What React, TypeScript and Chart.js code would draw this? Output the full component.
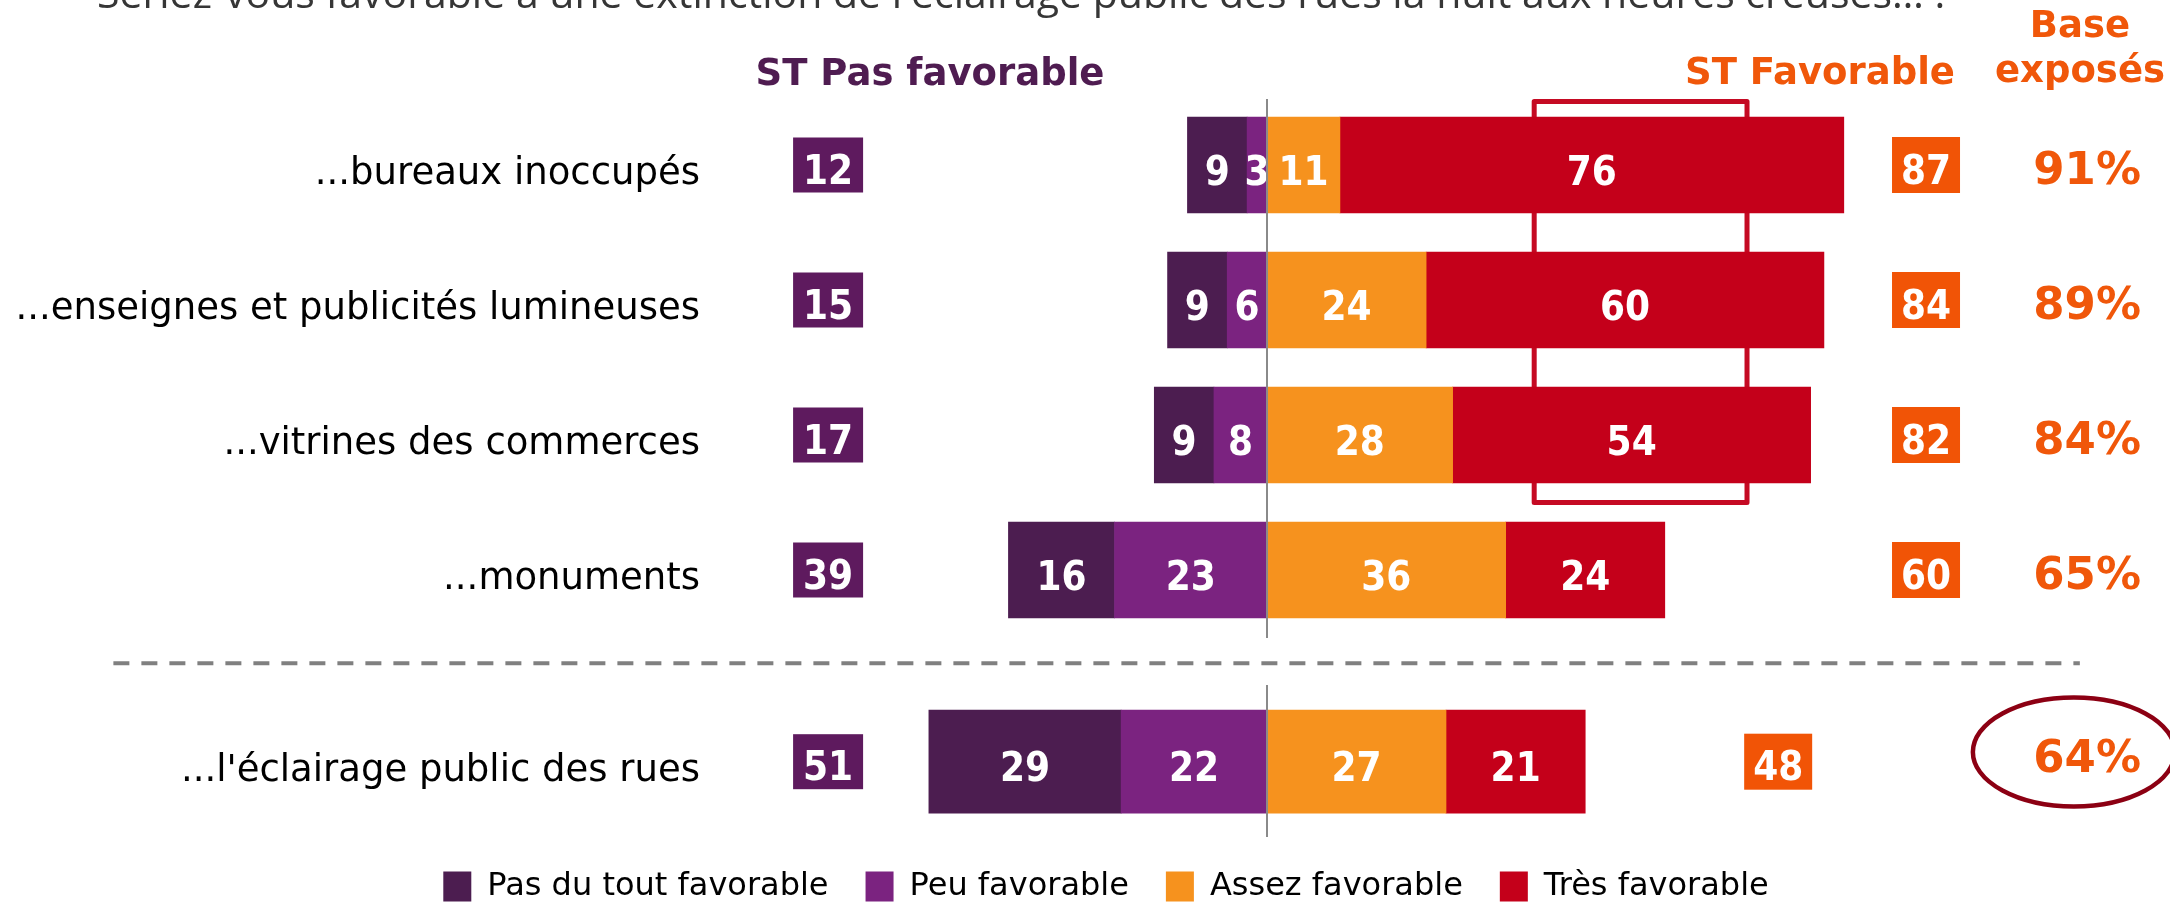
import React, { useEffect, useRef } from 'react';
import { Chart, registerables } from 'chart.js';

Chart.register(...registerables);

// ---------- DATA ----------
const title = "Seriez-vous favorable à une extinction de l'éclairage public des rues la nuit aux heures creuses… :";
const categories = [
  '...bureaux inoccupés',
  '...enseignes et publicités lumineuses',
  '...vitrines des commerces',
  '...monuments',
  "...l'éclairage public des rues",
];
const seriesNames = ['Pas du tout favorable', 'Peu favorable', 'Assez favorable', 'Très favorable'];
const pasDuTout = [9, 9, 9, 16, 29];
const peu = [3, 6, 8, 23, 22];
const assez = [11, 24, 28, 36, 27];
const tres = [76, 60, 54, 24, 21];
const stPasFavorable = [12, 15, 17, 39, 51];
const stFavorable = [87, 84, 82, 60, 48];
const baseExposes = [91, 89, 84, 65, 64];
const headerPas = 'ST Pas favorable';
const headerFav = 'ST Favorable';
const headerBase = ['Base', 'exposés'];

// ---------- LAYOUT / STYLE ----------
const ROW_POS = [0, 1, 2, 3, 4.42];
const MAIN_ROWS = [0, 1, 2, 3];
const LAST_ROW = 4;
// calibration of the scales in pixels
const ZERO_PX = 1267;
const X_UNIT_PX = 6.63;
const FIRST_ROW_PX = 165;
const ROW_UNIT_PX = 135;

const C_PAS = '#4c1d50';
const C_PEU = '#7b2380';
const C_ASSEZ = '#f6921e';
const C_TRES = '#c4001a';
const C_BOX_PAS = '#5e1a5e';
const C_BOX_FAV = '#f15406';
const C_HEAD_PAS = '#4f1c51';
const C_ORANGE = '#f0570a';

// dataset order: negative side stacks from centre outwards
const SERIES = [
  { name: seriesNames[1], values: peu, sign: -1, color: C_PEU, rank: 1 },
  { name: seriesNames[0], values: pasDuTout, sign: -1, color: C_PAS, rank: 0 },
  { name: seriesNames[2], values: assez, sign: 1, color: C_ASSEZ, rank: 2 },
  { name: seriesNames[3], values: tres, sign: 1, color: C_TRES, rank: 3 },
];

let condensedChecked = false;
let hasCondensed = false;
function checkCondensed() {
  if (condensedChecked) return hasCondensed;
  condensedChecked = true;
  const c = document.createElement('canvas').getContext('2d');
  if (!c) return false;
  c.font = 'bold 40px monospace';
  const w0 = c.measureText('0123456789').width;
  c.font = "bold 40px 'DejaVu Sans Condensed', monospace";
  const w1 = c.measureText('0123456789').width;
  hasCondensed = Math.abs(w0 - w1) > 0.5;
  return hasCondensed;
}

function drawNum(ctx: CanvasRenderingContext2D, text: string, cx: number, baseY: number, color: string) {
  ctx.save();
  ctx.fillStyle = color;
  ctx.textAlign = 'center';
  ctx.textBaseline = 'alphabetic';
  if (checkCondensed()) {
    ctx.font = "bold 40px 'DejaVu Sans Condensed'";
    ctx.fillText(text, cx, baseY);
  } else {
    ctx.translate(cx, baseY);
    ctx.scale(0.9, 1);
    ctx.font = "bold 40px 'DejaVu Sans'";
    ctx.fillText(text, 0, 0);
  }
  ctx.restore();
}

const overlayPlugin = {
  id: 'overlay',
  beforeDatasetsDraw(chart: any) {
    const { ctx, scales } = chart;
    const x = scales.x;
    const y = scales.y;
    ctx.save();
    ctx.strokeStyle = '#c50a23';
    ctx.lineWidth = 5;
    ctx.lineJoin = 'round';
    const x0 = x.getPixelForValue(40.3);
    const x1 = x.getPixelForValue(72.4);
    const y0 = y.getPixelForValue(-0.47);
    const y1 = y.getPixelForValue(2.5);
    ctx.strokeRect(x0, y0, x1 - x0, y1 - y0);
    ctx.restore();
  },
  afterDatasetsDraw(chart: any) {
    const { ctx, scales } = chart;
    const x = scales.x;
    const y = scales.y;

    // values inside bars
    chart.data.datasets.forEach((ds: any, di: number) => {
      const meta = chart.getDatasetMeta(di);
      meta.data.forEach((el: any, j: number) => {
        const p = el.getProps(['x', 'y', 'base'], true);
        const v = Math.abs(ds.data[j].x);
        drawNum(ctx, String(v), (p.x + p.base) / 2, p.y + 19.5, '#ffffff');
      });
    });

    ctx.save();
    // centre axis line
    const zx = x.getPixelForValue(0);
    ctx.strokeStyle = '#8a8a8a';
    ctx.lineWidth = 2;
    ctx.beginPath();
    ctx.moveTo(zx, y.getPixelForValue(-0.489));
    ctx.lineTo(zx, y.getPixelForValue(3.504));
    ctx.moveTo(zx, y.getPixelForValue(3.852));
    ctx.lineTo(zx, y.getPixelForValue(4.978));
    ctx.stroke();

    // dashed separator
    ctx.strokeStyle = '#808080';
    ctx.lineWidth = 4;
    ctx.setLineDash([16, 12]);
    const sy = y.getPixelForValue(3.69);
    ctx.beginPath();
    ctx.moveTo(x.getPixelForValue(-174), sy);
    ctx.lineTo(x.getPixelForValue(122.6), sy);
    ctx.stroke();
    ctx.setLineDash([]);

    // row labels
    ctx.fillStyle = '#000000';
    ctx.font = "37px 'DejaVu Sans'";
    ctx.textAlign = 'right';
    ctx.textBaseline = 'alphabetic';
    categories.forEach((c, i) => {
      ctx.fillText(c, 700, y.getPixelForValue(ROW_POS[i]) + 19);
    });

    // ST Pas favorable boxes
    const pasX = x.getPixelForValue(-66.2);
    stPasFavorable.forEach((v, i) => {
      const cy = y.getPixelForValue(ROW_POS[i]);
      ctx.fillStyle = C_BOX_PAS;
      ctx.fillRect(pasX - 35, cy - 27.5, 70, 55);
      drawNum(ctx, String(v), pasX, cy + 18.5, '#ffffff');
    });

    // ST Favorable boxes
    stFavorable.forEach((v, i) => {
      const bx = x.getPixelForValue(i === LAST_ROW ? 77.1 : 99.4);
      const cy = y.getPixelForValue(ROW_POS[i]);
      ctx.fillStyle = C_BOX_FAV;
      ctx.fillRect(bx - 34, cy - 28, 68, 56);
      drawNum(ctx, String(v), bx, cy + 18.5, '#ffffff');
    });

    // Base exposés percentages
    ctx.fillStyle = C_ORANGE;
    ctx.font = "bold 45px 'DejaVu Sans'";
    ctx.textAlign = 'center';
    const px = x.getPixelForValue(123.7);
    baseExposes.forEach((v, i) => {
      const cy = y.getPixelForValue(ROW_POS[i]);
      ctx.fillText(v + '%', px, cy + (i === LAST_ROW ? 10 : 19));
    });

    // ellipse highlight
    ctx.strokeStyle = '#8c0013';
    ctx.lineWidth = 4.5;
    ctx.beginPath();
    ctx.ellipse(x.getPixelForValue(121.7), y.getPixelForValue(4.348), 101, 54.5, 0, 0, Math.PI * 2);
    ctx.stroke();

    // headers
    ctx.font = "bold 37px 'DejaVu Sans'";
    ctx.fillStyle = C_HEAD_PAS;
    ctx.fillText(headerPas, 930, 85);
    ctx.fillStyle = C_ORANGE;
    ctx.fillText(headerFav, 1820, 84);
    ctx.fillText(headerBase[0], 2080, 37);
    ctx.fillText(headerBase[1], 2080, 82);

    // title (cut at top)
    ctx.fillStyle = '#363636';
    ctx.font = "41px 'Open Sans'";
    ctx.textAlign = 'left';
    ctx.fillText(title, 97, 8);
    ctx.restore();
  },
};

function buildDatasets() {
  const main = SERIES.map((s) => ({
    label: s.name,
    data: MAIN_ROWS.map((i) => ({ x: s.sign * s.values[i], y: ROW_POS[i] })),
    backgroundColor: s.color,
    borderWidth: 0,
    barThickness: 96,
    stack: 'all',
  }));
  const last = SERIES.map((s) => ({
    label: s.name,
    data: [{ x: s.sign * s.values[LAST_ROW], y: ROW_POS[LAST_ROW] }],
    backgroundColor: s.color,
    borderWidth: 0,
    barThickness: 103,
    stack: 'all',
  }));
  return [...main, ...last];
}

export default function App() {
  const ref = useRef<HTMLCanvasElement>(null);
  useEffect(() => {
    document.body.style.margin = '0';
    const canvas = ref.current;
    if (!canvas) return;
    const chart = new Chart(canvas, {
      type: 'bar',
      data: { datasets: buildDatasets() as any },
      options: {
        indexAxis: 'y',
        responsive: false,
        animation: false,
        events: [],
        layout: { padding: { left: 42, right: 0, top: 0, bottom: -10.5 } },
        scales: {
          x: { type: 'linear', min: -184.77, max: 136.2, stacked: true, display: false, offset: false },
          y: { type: 'linear', min: -1.2, max: 5, reverse: true, stacked: true, display: false, offset: false },
        },
        plugins: {
          tooltip: { enabled: false },
          title: { display: false },
          legend: {
            display: true,
            position: 'bottom',
            labels: {
              boxWidth: 28,
              boxHeight: 30,
              padding: 37,
              color: '#000000',
              font: { family: "'DejaVu Sans'", size: 32 },
              filter: (item: any) => item.datasetIndex < SERIES.length,
              sort: (a: any, b: any) => SERIES[a.datasetIndex].rank - SERIES[b.datasetIndex].rank,
            },
          },
        },
      } as any,
      plugins: [overlayPlugin],
    });
    // calibrate scale ranges to the actual chart area
    const area = chart.chartArea;
    const opts: any = chart.options.scales;
    const yMin = ROW_POS[0] - (FIRST_ROW_PX - area.top) / ROW_UNIT_PX;
    opts.y.min = yMin;
    opts.y.max = yMin + (area.bottom - area.top) / ROW_UNIT_PX;
    const xMin = -(ZERO_PX - area.left) / X_UNIT_PX;
    opts.x.min = xMin;
    opts.x.max = xMin + (area.right - area.left) / X_UNIT_PX;
    chart.update('none');
    return () => chart.destroy();
  }, []);
  return <canvas ref={ref} width={2170} height={902} style={{ display: 'block' }} />;
}
